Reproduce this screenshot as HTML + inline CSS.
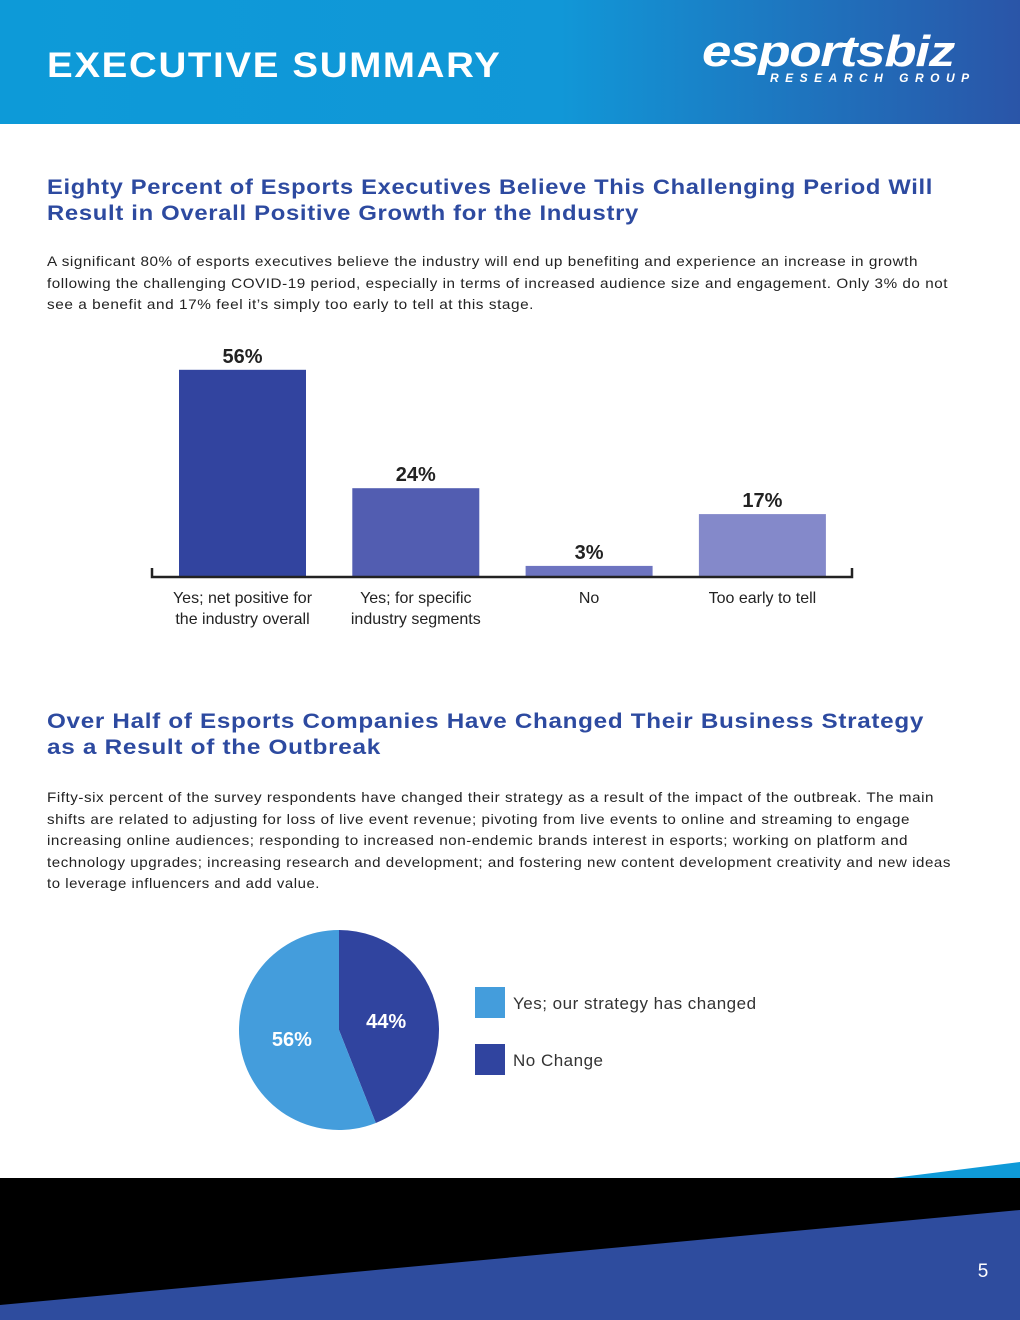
<!DOCTYPE html>
<html><head><meta charset="utf-8"><style>
body{margin:0;width:1020px;height:1320px;position:relative;overflow:hidden;background:#fff;font-family:"Liberation Sans",sans-serif}
.hdr{position:absolute;left:0;top:0;width:1020px;height:124px;background:linear-gradient(90deg,#0d9ad8 0%,#1197d7 55%,#2a55a8 100%)}
.hdr h1{position:absolute;left:47px;top:46px;margin:0;color:#fff;font-size:35px;font-weight:bold;letter-spacing:1.5px;transform:scaleX(1.1);transform-origin:left}
.logo{position:absolute;left:702px;top:30px;color:#fff;font-weight:bold;font-style:italic;font-size:44px;letter-spacing:-1px;line-height:44px;transform:scaleX(1.2);transform-origin:left}
.logo2{position:absolute;left:770px;top:71px;color:#fff;font-style:italic;font-size:12px;letter-spacing:6.5px;font-weight:bold}
h2{position:absolute;left:47px;margin:0;color:#2d4aa0;font-size:21px;font-weight:bold;line-height:26px;letter-spacing:0.6px}
p{position:absolute;left:47px;margin:0;color:#222;font-size:14px;line-height:21.6px;letter-spacing:0.5px}
.fit{display:block;white-space:nowrap;transform-origin:left;width:max-content}
</style></head><body>
<div class="hdr">
<h1>EXECUTIVE SUMMARY</h1>
<div class="logo">esportsbiz</div>
<div class="logo2">RESEARCH GROUP</div>
</div>
<h2 style="top:175px"><span class="fit" data-w="886">Eighty Percent of Esports Executives Believe This Challenging Period Will</span><span class="fit" data-w="592">Result in Overall Positive Growth for the Industry</span></h2>
<p style="top:251px"><span class="fit" data-w="871">A significant 80% of esports executives believe the industry will end up benefiting and experience an increase in growth</span><span class="fit" data-w="901">following the challenging COVID-19 period, especially in terms of increased audience size and engagement. Only 3% do not</span><span class="fit" data-w="487">see a benefit and 17% feel it’s simply too early to tell at this stage.</span></p>

<svg id="bar" style="position:absolute;left:0;top:330px" width="1020" height="310"></svg>

<h2 style="top:709px"><span class="fit" data-w="877">Over Half of Esports Companies Have Changed Their Business Strategy</span><span class="fit" data-w="334">as a Result of the Outbreak</span></h2>
<p style="top:787px"><span class="fit" data-w="887">Fifty-six percent of the survey respondents have changed their strategy as a result of the impact of the outbreak. The main</span><span class="fit" data-w="863">shifts are related to adjusting for loss of live event revenue; pivoting from live events to online and streaming to engage</span><span class="fit" data-w="861">increasing online audiences; responding to increased non-endemic brands interest in esports; working on platform and</span><span class="fit" data-w="904">technology upgrades; increasing research and development; and fostering new content development creativity and new ideas</span><span class="fit" data-w="273">to leverage influencers and add value.</span></p>

<svg id="pie" style="position:absolute;left:0;top:920px" width="1020" height="220"></svg>

<svg style="position:absolute;left:0;top:1150px" width="1020" height="170">
<rect x="0" y="28" width="1020" height="142" fill="#000"/>
<polygon points="893,28 1020,12 1020,28" fill="#0f9ad8"/>
<polygon points="0,155 1020,60 1020,170 0,170" fill="#2e4c9e"/>
<text x="983" y="127" fill="#fff" font-size="19" text-anchor="middle" font-family="Liberation Sans">5</text>
</svg>

<script>
document.querySelectorAll('.fit').forEach(s=>{const w=s.getBoundingClientRect().width;s.style.transform='scaleX('+(+s.dataset.w/w)+')';});
const NS='http://www.w3.org/2000/svg';
const barCategories=[["Yes; net positive for","the industry overall"],["Yes; for specific","industry segments"],["No"],["Too early to tell"]];
const barValues=[56,24,3,17];
const barLabels=["56%","24%","3%","17%"];
const barColors=["#32449f","#525db1","#6d74c0","#8489ca"];
function mk(p,t,a){const e=document.createElementNS(NS,t);for(const k in a)e.setAttribute(k,a[k]);p.appendChild(e);return e;}
const bs=document.getElementById('bar');
const base=247, pxPer=3.7, x0=179, step=173.3, bw=127;
const y=v=>base-v*pxPer;
barValues.forEach((v,i)=>{
  const x=x0+i*step;
  const r=mk(bs,'rect',{x:x,y:y(v),width:bw,height:base-y(v),fill:barColors[i]});
  
  
  const t=mk(bs,'text',{x:x+bw/2,y:y(v)-7,'text-anchor':'middle','font-size':20,'font-weight':'bold',fill:'#222','font-family':'Liberation Sans, sans-serif'});
  t.textContent=barLabels[i];
  
  
  barCategories[i].forEach((ln,j)=>{
    const c=mk(bs,'text',{x:x+bw/2,y:base+26+j*21,'text-anchor':'middle','font-size':16,fill:'#222','font-family':'Liberation Sans, sans-serif'});
    c.textContent=ln;
    
    
  });
});
const ax=mk(bs,'path',{d:`M152,${base-9}V${base}H852V${base-9}`,stroke:'#222','stroke-width':2.5,fill:'none'});



const pieCategories=["No Change","Yes; our strategy has changed"];
const pieValues=[44,56];
const pieLabels=["44%","56%"];
const pieColors=["#30449f","#449ddc"];
const ps=document.getElementById('pie');
const cx=339,cy=110,R=100;
let a0=-Math.PI/2;
const tot=pieValues.reduce((a,b)=>a+b,0);
pieValues.forEach((v,i)=>{
  const a1=a0+v/tot*2*Math.PI;
  const large=(a1-a0)>Math.PI?1:0;
  const p=mk(ps,'path',{d:`M${cx},${cy}L${cx+R*Math.cos(a0)},${cy+R*Math.sin(a0)}A${R},${R} 0 ${large} 1 ${cx+R*Math.cos(a1)},${cy+R*Math.sin(a1)}Z`,fill:pieColors[i]});
  
  
  const m=(a0+a1)/2, lr=48;
  const t=mk(ps,'text',{x:cx+lr*Math.cos(m),y:cy+lr*Math.sin(m)+7,'text-anchor':'middle','font-size':20,'font-weight':'bold',fill:'#fff','font-family':'Liberation Sans, sans-serif'});
  t.textContent=pieLabels[i];
  
  
  a0=a1;
});
[1,0].forEach((idx,k)=>{
  const r=mk(ps,'rect',{x:475,y:67+k*57,width:30,height:31,fill:pieColors[idx]});
  
  
  const t=mk(ps,'text',{x:513,y:89+k*57,'font-size':17,fill:'#333','letter-spacing':0.5,'font-family':'Liberation Sans, sans-serif'});
  t.textContent=pieCategories[idx];
  
  
});
</script>
</body></html>
